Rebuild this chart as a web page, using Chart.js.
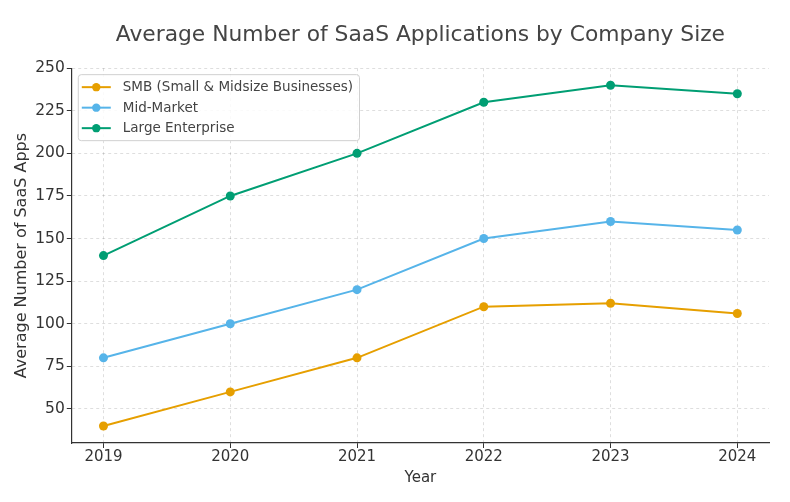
<!DOCTYPE html>
<html>
<head>
<meta charset="utf-8">
<script src="https://cdn.jsdelivr.net/npm/chart.js@4/dist/chart.umd.min.js"></script>
<style>
  html, body { margin: 0; padding: 0; background: #ffffff; }
  #wrap { width: 790px; height: 502px; position: relative; }
</style>
</head>
<body>
<div id="wrap"><canvas id="c" width="790" height="502"></canvas></div>
<script>
const years = [2019, 2020, 2021, 2022, 2023, 2024];
const smbValues = [40, 60, 80, 110, 112, 106];
const midMarketValues = [80, 100, 120, 150, 160, 155];
const largeEnterpriseValues = [140, 175, 200, 230, 240, 235];
const seriesLabels = ['SMB (Small & Midsize Businesses)', 'Mid-Market', 'Large Enterprise'];
const yTicks = [50, 75, 100, 125, 150, 175, 200, 225, 250];

const colors = ['#E69F00', '#56B4E9', '#009E73'];
const FONT = "'DejaVu Sans', sans-serif";

function toPoints(vals) { return years.map((y, i) => ({ x: y, y: vals[i] })); }

const insideLegend = {
  id: 'insideLegend',
  afterDraw(chart) {
    const ctx = chart.ctx;
    const a = chart.chartArea;
    const x0 = a.left + 6, y0 = a.top + 6;
    ctx.save();
    ctx.font = "13.5px " + FONT;
    let maxW = 0;
    chart.data.datasets.forEach(d => { maxW = Math.max(maxW, ctx.measureText(d.label).width); });
    const w = maxW + 51, h = 66;
    ctx.beginPath();
    ctx.roundRect(x0 + 0.5, y0 + 0.5, w, h, 3);
    ctx.fillStyle = 'rgba(255,255,255,0.85)';
    ctx.fill();
    ctx.strokeStyle = '#d0d0d0';
    ctx.lineWidth = 1;
    ctx.stroke();
    chart.data.datasets.forEach((d, i) => {
      const cy = y0 + 13 + i * 20.5;
      ctx.strokeStyle = d.borderColor;
      ctx.lineWidth = 2;
      ctx.beginPath();
      ctx.moveTo(x0 + 4, cy);
      ctx.lineTo(x0 + 33, cy);
      ctx.stroke();
      ctx.fillStyle = d.borderColor;
      ctx.beginPath();
      ctx.arc(x0 + 18.5, cy, 4.2, 0, Math.PI * 2);
      ctx.fill();
      ctx.fillStyle = '#444444';
      ctx.textBaseline = 'middle';
      ctx.textAlign = 'left';
      ctx.fillText(d.label, x0 + 45, cy + 0.5);
    });
    ctx.restore();
  }
};

const valueLists = [smbValues, midMarketValues, largeEnterpriseValues];

new Chart(document.getElementById('c'), {
  type: 'line',
  data: {
    datasets: valueLists.map((vals, i) => ({
      label: seriesLabels[i],
      data: toPoints(vals),
      borderColor: colors[i],
      backgroundColor: colors[i],
      borderWidth: 2,
      pointRadius: 4.5,
      pointHoverRadius: 4.5,
      pointBorderWidth: 0,
      tension: 0,
      fill: false
    }))
  },
  options: {
    responsive: false,
    animation: false,
    devicePixelRatio: 1,
    layout: { padding: { left: 12, right: 21, top: 12, bottom: 15 } },
    plugins: {
      legend: { display: false },
      tooltip: { enabled: false },
      title: {
        display: true,
        fullSize: false,
        text: 'Average Number of SaaS Applications by Company Size',
        color: '#444444',
        font: { family: FONT, size: 21.8, weight: 'normal' },
        padding: { top: 10, bottom: 20 }
      }
    },
    scales: {
      x: {
        type: 'linear',
        min: 2018.75,
        max: 2024.25,
        afterBuildTicks(axis) { axis.ticks = years.map(v => ({ value: v })); },
        ticks: {
          color: '#333333',
          font: { family: FONT, size: 15 },
          padding: 0,
          callback: v => String(v),
          maxRotation: 0
        },
        grid: {
          color: 'rgba(0,0,0,0.13)',
          drawTicks: true,
          tickLength: 5,
          tickColor: '#333333'
        },
        border: { display: true, color: '#333333', width: 1.2, dash: [3, 3] },
        title: {
          display: true,
          text: 'Year',
          color: '#333333',
          font: { family: FONT, size: 15 },
          padding: { top: 3, bottom: 0 }
        }
      },
      y: {
        min: 30,
        max: 250,
        afterBuildTicks(axis) { axis.ticks = yTicks.map(v => ({ value: v })); },
        ticks: {
          color: '#333333',
          font: { family: FONT, size: 15.5 },
          padding: 2
        },
        grid: {
          color: 'rgba(0,0,0,0.13)',
          tickLength: 5,
          tickColor: '#333333'
        },
        border: { display: true, color: '#333333', width: 1.2, dash: [3, 3] },
        title: {
          display: true,
          text: 'Average Number of SaaS Apps',
          color: '#333333',
          font: { family: FONT, size: 16 },
          padding: { top: 0, bottom: 2 }
        }
      }
    }
  },
  plugins: [insideLegend]
});
</script>
</body>
</html>
